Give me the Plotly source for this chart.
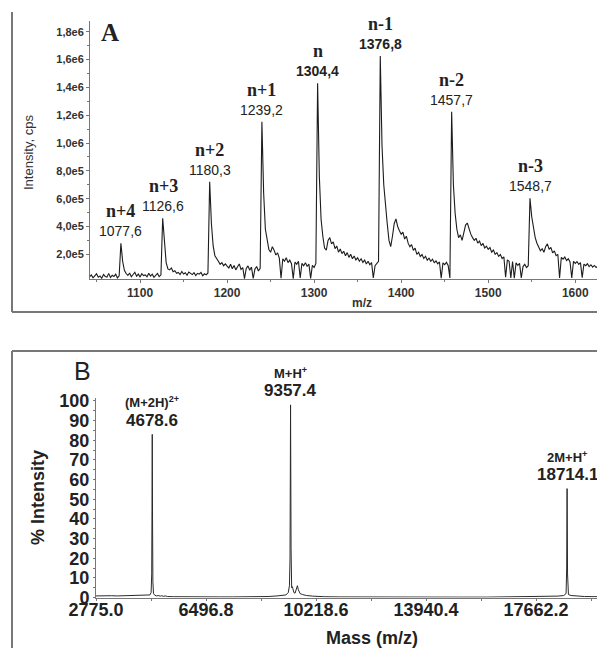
import plotly.graph_objects as go

# ---------------- Panel A data (ESI spectrum, intensities in k cps, sampled every 2 m/z) -------------
A_STEP = 2
seg_1042 = [38, 52, 31, 47, 60, 35, 44, 28, 55, 41, 36, 63, 33, 49, 40, 57, 30, 45]
seg_1078 = [279, 150, 85, 62,
            48, 66, 39, 55, 70, 42, 58, 36, 61, 47, 52, 38, 64, 44, 57, 35, 50, 62, 40, 53]
seg_1126 = [459, 260, 140, 95, 88, 102, 75,
            82, 64, 70, 55, 76, 58, 67, 49, 72, 61, 54, 68, 47, 63, 57, 70, 45, 60, 52, 66]
seg_1180 = [722, 420, 260, 190, 165, 150, 128, 140, 118, 132,
            115, 102, 128, 96, 120, 88, 110, 131, 92, 105, 25, 98, 117, 85, 108, 26, 94, 112, 80,
            100]
seg_1240 = [1153, 640, 380, 290, 235, 215, 255, 230, 195, 210, 172, 28, 168, 150, 175, 140,
            158, 132, 25, 145, 128, 150, 30, 135, 118, 140, 112, 130, 27, 120, 105, 135]
seg_1304 = [1429, 760, 450, 330, 245, 230, 300, 320, 275, 290, 240, 260, 215, 238, 205, 222,
            190, 212, 178, 200, 168, 188, 160, 175, 150, 168, 142, 158, 130, 150, 125, 140,
            30, 118, 135, 150]
seg_1376 = [1625, 980, 700, 540, 420, 300, 255, 330, 420, 455, 400, 370, 345, 360, 310, 330,
            280, 255, 270, 228, 245, 200, 215, 185, 198, 170, 186, 158, 172, 150, 165, 140,
            152, 132, 145, 28, 138, 125, 142, 120, 30]
seg_1458 = [1225, 700, 495, 380, 320, 340, 300, 370, 410, 425, 380, 345, 320, 300, 315, 280,
            295, 262, 278, 245, 258, 235, 248, 215, 230, 200, 212, 185, 198, 170, 182, 35,
            160, 150, 30, 148, 28, 138, 120, 135, 30, 112, 128, 105, 118]
seg_1548 = [602, 470, 380, 320, 280, 245, 225, 240, 215, 255, 275, 235, 250, 210, 225, 190,
            200, 30, 178, 165, 180, 155, 168, 145, 30, 150, 135, 148, 128, 140, 32, 130,
            118, 132, 112, 125, 108, 120, 105, 115]
segments_a = [(1042, seg_1042), (1078, seg_1078), (1126, seg_1126), (1180, seg_1180),
              (1240, seg_1240), (1304, seg_1304), (1376, seg_1376), (1458, seg_1458),
              (1548, seg_1548)]

peaks_a_mz = [1077.6, 1126.6, 1180.3, 1239.2, 1304.4, 1376.8, 1457.7, 1548.7]
peaks_a_name = ["n+4", "n+3", "n+2", "n+1", "n", "n-1", "n-2", "n-3"]
peaks_a_text = ["1077,6", "1126,6", "1180,3", "1239,2", "1304,4", "1376,8", "1457,7", "1548,7"]
peaks_a_bold = [False, False, False, False, True, True, False, False]

a_xticks = [1100, 1200, 1300, 1400, 1500, 1600]
a_yticks = [2e5, 4e5, 6e5, 8e5, 1e6, 1.2e6, 1.4e6, 1.6e6, 1.8e6]
a_yticktext = ["2,0e5", "4,0e5", "6,0e5", "8,0e5", "1,0e6", "1,2e6", "1,4e6", "1,6e6", "1,8e6"]

# ---------------- Panel B data (MALDI spectrum, % intensity) -------------
b_mass = [2775, 2900, 3100, 3300, 3500, 3700, 3900, 4100, 4300, 4500, 4600, 4640, 4660, 4670,
          4678.6, 4688, 4700, 4720, 4760, 4820, 4880, 4950, 5000, 5050, 5120, 5200, 5400, 5800,
          6200, 6600, 7000, 7400, 7800, 8200, 8600, 8900, 9100, 9200, 9280, 9320, 9340, 9357.4,
          9375, 9395, 9420, 9440, 9470, 9510, 9560, 9590, 9620, 9680, 9760, 9900, 10100, 10300,
          10500, 11000, 12000, 13000, 14000, 15000, 16000, 17000, 18000, 18400, 18600, 18680,
          18700, 18714.1, 18730, 18760, 18850, 19000, 19300, 19726]
b_int = [0.8, 0.9, 0.8, 0.9, 0.8, 0.9, 0.8, 0.9, 1.0, 1.1, 1.3, 2.5, 12, 45,
         83, 40, 8, 2, 1.2, 0.8, 1.0, 0.7, 0.9, 0.6, 0.8, 0.5, 0.4, 0.3,
         0.3, 0.3, 0.3, 0.3, 0.3, 0.4, 0.5, 0.8, 1.0, 1.3, 2.5, 6, 20, 98,
         25, 5, 5.5, 4.5, 2.5, 2.2, 4.5, 6, 4, 2, 1.5, 1.0, 0.7, 0.5,
         0.4, 0.3, 0.2, 0.2, 0.2, 0.2, 0.2, 0.3, 0.4, 0.7, 1.0, 2,
         15, 55.4, 12, 1.5, 1.0, 0.8, 0.5, 0.4]

peaks_b_mass = [4678.6, 9357.4, 18714.1]
peaks_b_name = ["(M+2H)<sup>2+</sup>", "M+H<sup>+</sup>", "2M+H<sup>+</sup>"]
peaks_b_text = ["4678.6", "9357.4", "18714.1"]

b_xticks = [2775.0, 6496.8, 10218.6, 13940.4, 17662.2]
b_xticktext = ["2775.0", "6496.8", "10218.6", "13940.4", "17662.2"]
b_yticks = [0, 10, 20, 30, 40, 50, 60, 70, 80, 90, 100]

# ---------------- build series -------------
mz_a, int_a = [], []
for start, vals in segments_a:
    for i, v in enumerate(vals):
        mz_a.append(start + A_STEP * i)
        int_a.append(v * 1000)

def local_max(xs, ys, x0, win):
    return max(y for x, y in zip(xs, ys) if abs(x - x0) <= win)

W, H = 597, 648
def px(x):
    return x / W
def py(y):
    return 1 - y / H

SANS = "Liberation Sans, Arial, sans-serif"
SERIF = "Liberation Serif, Times New Roman, serif"

fig = go.Figure()
fig.add_trace(go.Scatter(x=mz_a, y=int_a, mode="lines", xaxis="x", yaxis="y",
                         line=dict(color="#1c1c1c", width=1.1), hoverinfo="skip"))
fig.add_trace(go.Scatter(x=b_mass, y=b_int, mode="lines", xaxis="x2", yaxis="y2",
                         line=dict(color="#2a2a2a", width=1), hoverinfo="skip"))

ann = []
for mz, name, txt, bold in zip(peaks_a_mz, peaks_a_name, peaks_a_text, peaks_a_bold):
    top = local_max(mz_a, int_a, mz, 2.5)
    ann.append(dict(x=mz, y=top, xref="x", yref="y", text=txt, showarrow=False,
                    xanchor="center", yanchor="middle",
                    yshift=12, font=dict(family=SANS, size=14, color="#222",
                                         weight="bold" if bold else "normal")))
    ann.append(dict(x=mz, y=top, xref="x", yref="y", text=name, showarrow=False,
                    xanchor="center", yanchor="middle",
                    yshift=32, font=dict(family=SERIF, size=18, color="#222", weight="bold")))
for m, name, txt in zip(peaks_b_mass, peaks_b_name, peaks_b_text):
    top = local_max(b_mass, b_int, m, 1)
    ann.append(dict(x=m, y=top, xref="x2", yref="y2", text=txt, showarrow=False,
                    xanchor="center", yanchor="middle",
                    yshift=14, font=dict(family=SANS, size=17, color="#222", weight="bold")))
    ann.append(dict(x=m, y=top, xref="x2", yref="y2", text=name, showarrow=False,
                    xanchor="center", yanchor="middle",
                    yshift=32, font=dict(family=SANS, size=13, color="#222", weight="bold")))

paper_ann = [
    (28, 153, "Intensity, cps", -90, dict(family=SANS, size=13, color="#333")),
    (362, 303, "m/z", 0, dict(family=SANS, size=12, color="#333", weight="bold")),
    (110, 32, "A", 0, dict(family=SERIF, size=25, color="#222", weight="bold")),
    (38, 498, "% Intensity", -90, dict(family=SANS, size=18, color="#222", weight="bold")),
    (372, 638, "Mass (m/z)", 0, dict(family=SANS, size=18, color="#222", weight="bold")),
    (82, 371, "B", 0, dict(family=SANS, size=25, color="#222")),
]
for x, y, t, ang, f in paper_ann:
    ann.append(dict(x=px(x), y=py(y), xref="paper", yref="paper", text=t, textangle=ang,
                    xanchor="center", yanchor="middle", showarrow=False, font=f))

frame = dict(color="#777", width=2)
shapes = [
    dict(type="line", xref="paper", yref="paper", x0=px(12), x1=px(12), y0=py(12), y1=py(312), line=frame),
    dict(type="line", xref="paper", yref="paper", x0=px(12), x1=1, y0=py(312), y1=py(312), line=frame),
    dict(type="line", xref="paper", yref="paper", x0=px(12), x1=1, y0=py(351), y1=py(351), line=frame),
    dict(type="line", xref="paper", yref="paper", x0=px(12), x1=px(12), y0=py(351), y1=0, line=frame),
]

axis_common = dict(showgrid=False, zeroline=False, showline=True, linecolor="#777", linewidth=1,
                   ticks="outside", tickcolor="#777", tickwidth=1, automargin=False)

fig.update_layout(
    width=W, height=H, margin=dict(l=0, r=0, t=0, b=0, pad=0, autoexpand=False),
    paper_bgcolor="white", plot_bgcolor="white", showlegend=False,
    annotations=ann, shapes=shapes,
    xaxis=dict(axis_common, domain=[px(90), 1], anchor="y", range=[1042.5, 1625],
               tickvals=a_xticks, ticklen=3,
               minor=dict(dtick=50, ticks="outside", ticklen=2, tickcolor="#777"),
               tickfont=dict(family=SANS, size=12, color="#333", weight="bold")),
    yaxis=dict(axis_common, domain=[py(279), py(21)], anchor="x", range=[22500, 1877000],
               tickvals=a_yticks, ticktext=a_yticktext, ticklen=3,
               minor=dict(tickvals=[3e5, 5e5, 7e5, 9e5, 1.1e6, 1.3e6, 1.5e6, 1.7e6],
                          ticks="outside", ticklen=2, tickcolor="#777"),
               tickfont=dict(family=SANS, size=11, color="#333", weight="bold")),
    xaxis2=dict(axis_common, domain=[px(96), 1], anchor="y2", range=[2775, 19726],
                tickvals=b_xticks, ticktext=b_xticktext, ticklen=2, ticklabelstandoff=-6,
                minor=dict(tickvals=[4635.9, 8357.7, 12079.5, 15801.3, 19523.1],
                           ticks="outside", ticklen=2, tickcolor="#777"),
                tickfont=dict(family=SANS, size=18, color="#222", weight="bold")),
    yaxis2=dict(axis_common, domain=[py(597.5), py(398)], anchor="x2", range=[0, 101.5],
                tickvals=b_yticks, ticklen=2,
                minor=dict(dtick=5, ticks="outside", ticklen=2, tickcolor="#777"),
                tickfont=dict(family=SANS, size=18, color="#222", weight="bold")),
)

fig.write_html("out.html")
